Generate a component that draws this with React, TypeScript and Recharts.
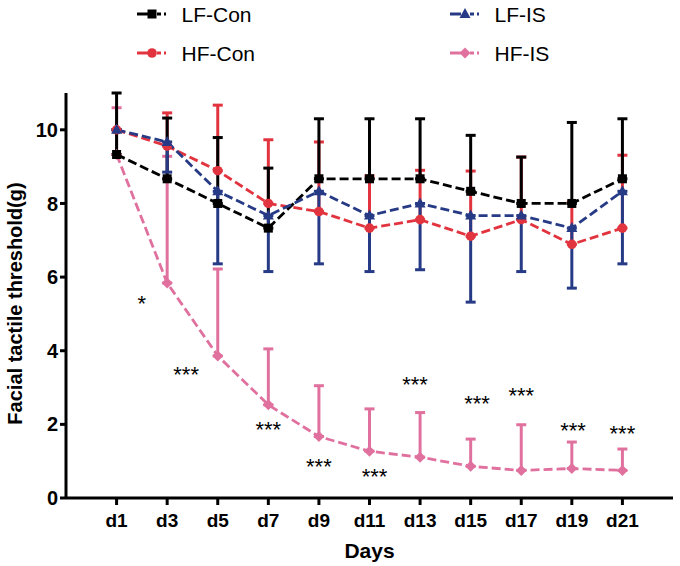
import React from "react";
import { ComposedChart, Line, Scatter, XAxis, YAxis, ErrorBar } from "recharts";

const FONT = '"Liberation Sans", Arial, sans-serif';

const days = [1, 3, 5, 7, 9, 11, 13, 15, 17, 19, 21];
const yTicks = [0, 2, 4, 6, 8, 10];

// means and SD (one-sided bars as in the original)
const lfCon = [9.33, 8.67, 8.0, 7.33, 8.67, 8.67, 8.67, 8.33, 8.0, 8.0, 8.67];
const lfConSd = [1.67, 1.65, 1.79, 1.63, 1.63, 1.63, 1.63, 1.52, 1.26, 2.2, 1.63];
const hfCon = [10.0, 9.56, 8.89, 8.0, 7.78, 7.33, 7.56, 7.11, 7.56, 6.89, 7.33];
const hfConSd = [0, 0.9, 1.78, 1.73, 1.89, 1.42, 1.34, 1.77, 1.7, 1.15, 1.98];
const lfIs = [10.0, 9.67, 8.33, 7.67, 8.33, 7.67, 8.0, 7.67, 7.67, 7.33, 8.33];
const lfIsSd = [0, 0.82, 1.97, 1.52, 1.97, 1.52, 1.8, 2.35, 1.52, 1.63, 1.97];
const hfIs = [9.33, 5.84, 3.86, 2.53, 1.67, 1.27, 1.11, 0.86, 0.75, 0.8, 0.75];
const hfIsSd = [1.27, 3.44, 2.36, 1.52, 1.38, 1.15, 1.21, 0.74, 1.24, 0.72, 0.58];

// significance marks
const starDays = [2, 3.75, 7, 9, 11.2, 12.8, 15.25, 17, 19.05, 21];
const starValues = [5.43, 3.48, 2.0, 0.98, 0.72, 3.23, 2.69, 2.93, 1.97, 1.89];
const starLabels = ["*", "***", "***", "***", "***", "***", "***", "***", "***", "***"];

const BLACK = "#000000";
const RED = "#e2343f";
const NAVY = "#263a86";
const PINK = "#e0719f";

const rows = days.map((d, i) => ({
  day: d,
  lfCon: lfCon[i],
  lfConErr: [0, lfConSd[i]],
  hfCon: hfCon[i],
  hfConErr: [0, hfConSd[i]],
  lfIs: lfIs[i],
  lfIsErr: [lfIsSd[i], 0],
  hfIs: hfIs[i],
  hfIsErr: [0, hfIsSd[i]],
}));

const stars = starDays.map((d, i) => ({ day: d, v: starValues[i], label: starLabels[i] }));

const drawSquare = (color: string, cx: number, cy: number, key?: any) => (
  <rect key={key} x={cx - 4.5} y={cy - 4.5} width={9} height={9} fill={color} />
);
const drawCircle = (color: string, cx: number, cy: number, key?: any) => (
  <circle key={key} cx={cx} cy={cy} r={4.8} fill={color} />
);
const drawTriangle = (color: string, cx: number, cy: number, key?: any) => (
  <path key={key} d={`M${cx},${cy - 6} L${cx + 5.5},${cy + 4} L${cx - 5.5},${cy + 4} Z`} fill={color} />
);
const drawDiamond = (color: string, cx: number, cy: number, key?: any) => (
  <path key={key} d={`M${cx},${cy - 5.5} L${cx + 5.5},${cy} L${cx},${cy + 5.5} L${cx - 5.5},${cy} Z`} fill={color} />
);

const dotOf = (fn: typeof drawSquare, color: string) => (p: any) =>
  fn(color, p.cx, p.cy, `dot-${p.index}`);

const series = [
  { name: "LF-Con", color: BLACK, marker: drawSquare, col: 0, row: 0 },
  { name: "LF-IS", color: NAVY, marker: drawTriangle, col: 1, row: 0 },
  { name: "HF-Con", color: RED, marker: drawCircle, col: 0, row: 1 },
  { name: "HF-IS", color: PINK, marker: drawDiamond, col: 1, row: 1 },
];

const renderDays = (props: any) => {
  const { x, y, width } = props.viewBox;
  return (
    <text x={x + width / 2} y={y + 60} textAnchor="middle" fontSize={21} fontWeight="bold" fontFamily={FONT} fill="#000">
      Days
    </text>
  );
};

const renderYLabel = (props: any) => {
  const { x, y } = props.viewBox;
  const lx = x + 21.5;
  const ly = y + 210.5;
  return (
    <text x={lx} y={ly} transform={`rotate(-90, ${lx}, ${ly})`} textAnchor="middle" fontSize={20} fontWeight="bold" fontFamily={FONT} fill="#000">
      Facial tactile threshold(g)
    </text>
  );
};

const renderStar = (p: any) => (
  <text x={p.cx} y={p.cy + 12.5} textAnchor="middle" fontSize={22} fontFamily={FONT} fill="#000">
    {p.payload.label}
  </text>
);

const Legend2 = () => {
  const colX = [137, 450];
  const rowY = [14, 53];
  return (
    <svg width={680} height={80} style={{ position: "absolute", left: 0, top: 0 }}>
      {series.map((s) => {
        const x0 = colX[s.col];
        const y0 = rowY[s.row];
        return (
          <g key={s.name}>
            <line x1={x0} y1={y0} x2={x0 + 11} y2={y0} stroke={s.color} strokeWidth={3} />
            <line x1={x0 + 20} y1={y0} x2={x0 + 24} y2={y0} stroke={s.color} strokeWidth={3} />
            <line x1={x0 + 27} y1={y0} x2={x0 + 29} y2={y0} stroke={s.color} strokeWidth={3} />
            {s.marker(s.color, x0 + 15, y0)}
            <text x={x0 + 44.5} y={y0 + 7.5} fontSize={21} fontFamily={FONT} fill="#000">
              {s.name}
            </text>
          </g>
        );
      })}
    </svg>
  );
};

const axisStyle = { stroke: "#000", strokeWidth: 3 };

export default function App() {
  return (
    <div style={{ position: "relative", width: 680, height: 566, background: "#fff" }}>
      <style>{`body{margin:0}`}</style>
      <ComposedChart width={680} height={566} data={rows} margin={{ top: 93, right: 7, bottom: 8, left: 0 }}>
        <XAxis
          dataKey="day"
          type="number"
          domain={[-1, 23]}
          ticks={days}
          tickFormatter={(v) => `d${v}`}
          height={60}
          tickSize={7}
          tickMargin={9}
          axisLine={axisStyle}
          tickLine={axisStyle}
          tick={{ fill: "#000", fontSize: 19, fontWeight: "bold", fontFamily: FONT }}
          label={{ value: "Days", content: renderDays }}
        />
        <YAxis
          type="number"
          domain={[0, 11]}
          ticks={yTicks}
          width={66}
          tickSize={6}
          tickMargin={2}
          axisLine={axisStyle}
          tickLine={axisStyle}
          tick={{ fill: "#000", fontSize: 20, fontWeight: "bold", fontFamily: FONT }}
          label={{ value: "Facial tactile threshold(g)", content: renderYLabel }}
        />
        <Line dataKey="hfIs" stroke={PINK} strokeWidth={2.8} strokeDasharray="9 4" dot={dotOf(drawDiamond, PINK)} activeDot={false} isAnimationActive={false}>
          <ErrorBar dataKey="hfIsErr" direction="y" width={5} stroke={PINK} strokeWidth={3} />
        </Line>
        <Line dataKey="hfCon" stroke={RED} strokeWidth={2.8} strokeDasharray="9 4" dot={dotOf(drawCircle, RED)} activeDot={false} isAnimationActive={false}>
          <ErrorBar dataKey="hfConErr" direction="y" width={5} stroke={RED} strokeWidth={3} />
        </Line>
        <Line dataKey="lfCon" stroke={BLACK} strokeWidth={2.8} strokeDasharray="9 4" dot={dotOf(drawSquare, BLACK)} activeDot={false} isAnimationActive={false}>
          <ErrorBar dataKey="lfConErr" direction="y" width={5} stroke={BLACK} strokeWidth={3} />
        </Line>
        <Line dataKey="lfIs" stroke={NAVY} strokeWidth={2.8} strokeDasharray="9 4" dot={dotOf(drawTriangle, NAVY)} activeDot={false} isAnimationActive={false}>
          <ErrorBar dataKey="lfIsErr" direction="y" width={5} stroke={NAVY} strokeWidth={3} />
        </Line>
        <Scatter data={stars} dataKey="v" shape={renderStar} isAnimationActive={false} />
      </ComposedChart>
      <Legend2 />
    </div>
  );
}
